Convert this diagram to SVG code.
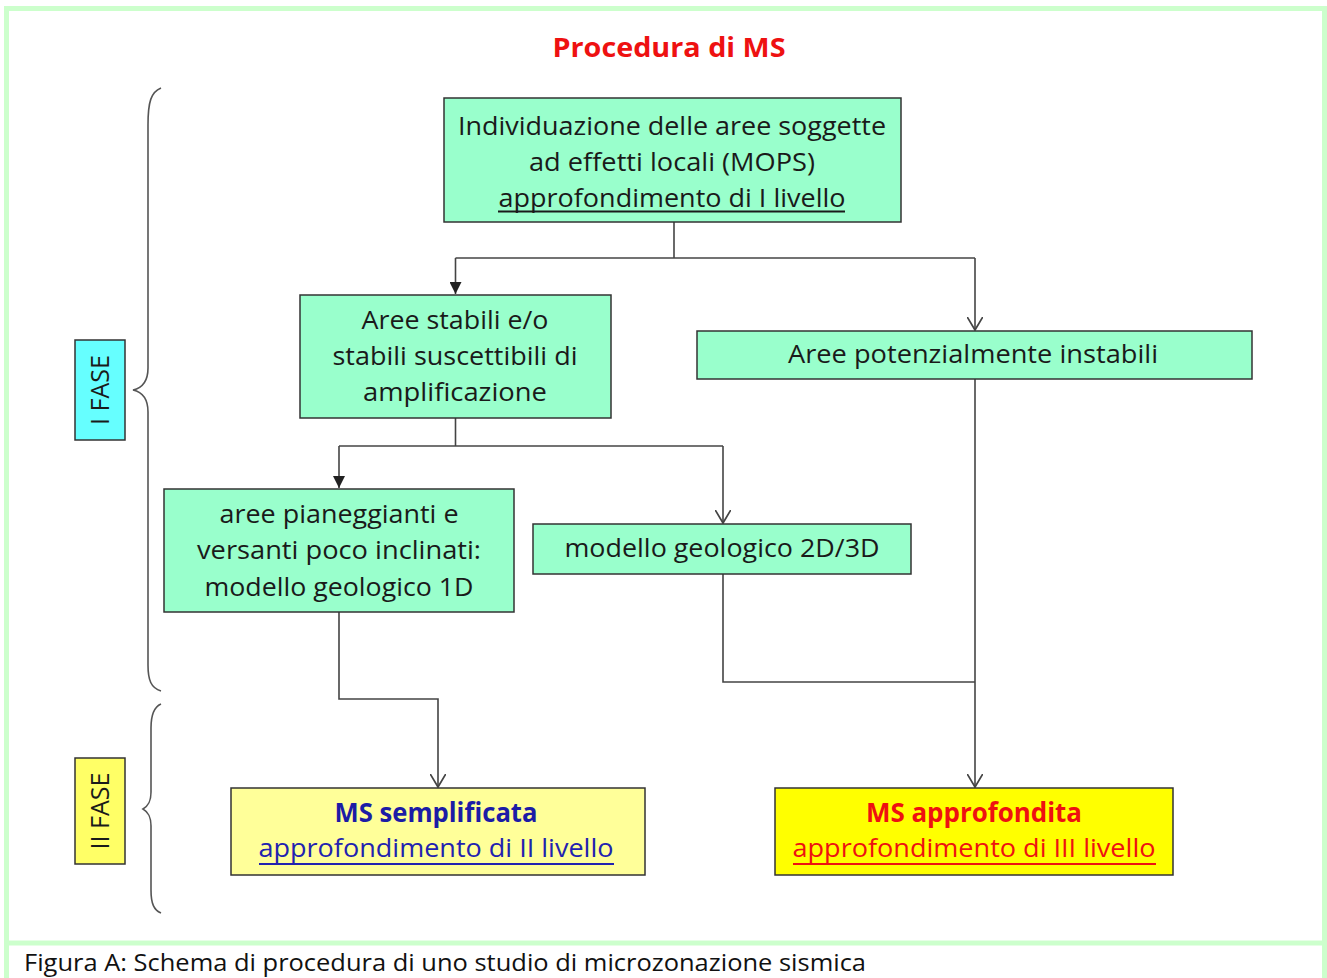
<svg xmlns="http://www.w3.org/2000/svg" width="1327" height="978" viewBox="0 0 1327 978">
<style>
.t{font-family:"Open Sans","Noto Sans","DejaVu Sans",sans-serif;font-size:26px;fill:#1a1a1a;text-anchor:middle}
.b{font-weight:bold}
.box{fill:#99ffcc;stroke:#333;stroke-width:1.5}
.c{fill:none;stroke:#444;stroke-width:1.6}
.br{fill:none;stroke:#555;stroke-width:1.6}
.frame{fill:none;stroke:#ccffcc;stroke-width:5}
</style>
<defs>
<marker id="af" markerWidth="12" markerHeight="12" refX="10" refY="5" orient="auto" markerUnits="userSpaceOnUse" viewBox="0 0 10 10">
<path d="M0,0 L10,5 L0,10 Z" fill="#222"/>
</marker>
<marker id="ao" markerWidth="16" markerHeight="16" refX="10" refY="6" orient="auto" markerUnits="userSpaceOnUse" viewBox="0 0 12 12">
<path d="M0,0 L10,6 L0,12" fill="none" stroke="#444" stroke-width="1.3"/>
</marker>
</defs>
<rect width="1327" height="978" fill="#fff"/>
<g id="frame">
<rect class="frame" x="6.5" y="8.5" width="1318" height="934.5"/>
<line class="frame" x1="6.5" y1="943" x2="6.5" y2="978"/>
<line class="frame" x1="1324.5" y1="943" x2="1324.5" y2="978"/>
</g>
<g id="title">
<text class="t b" x="669" y="57" font-size="30" style="fill:#ee1111" textLength="233" lengthAdjust="spacingAndGlyphs">Procedura di MS</text>
</g>
<g id="braces">
<path class="br" d="M161,88 C151,92 148,102 148,125 L148,368 C148,382 142,388 133,390 C142,392 148,398 148,412 L148,665 C148,680 151,688 161,691"/>
<path class="br" d="M161,704 C154,707 151,714 151,728 L151,792 C151,802 148,806 143,809 C148,812 151,816 151,826 L151,890 C151,904 154,910 161,913"/>
</g>
<g id="connectors">
<path class="c" d="M674,222 L674,258"/>
<path class="c" d="M455.5,258 L975,258"/>
<path class="c" d="M455.5,258 L455.5,294" marker-end="url(#af)"/>
<path class="c" d="M975,258 L975,330" marker-end="url(#ao)"/>
<path class="c" d="M455.5,418 L455.5,446"/>
<path class="c" d="M339,446 L723,446"/>
<path class="c" d="M339,446 L339,488" marker-end="url(#af)"/>
<path class="c" d="M723,446 L723,523" marker-end="url(#ao)"/>
<path class="c" d="M975,379 L975,787" marker-end="url(#ao)"/>
<path class="c" d="M723,574 L723,682 L975,682"/>
<path class="c" d="M339,612 L339,699 L438,699 L438,787" marker-end="url(#ao)"/>
</g>
<g id="fase1">
<rect x="75" y="340" width="50" height="100" fill="#66ffff" stroke="#333" stroke-width="1.5"/>
<text class="t" transform="translate(109,390) rotate(-90)" x="0" y="0" font-size="25" textLength="70" lengthAdjust="spacingAndGlyphs">I FASE</text>
</g>
<g id="fase2">
<rect x="75" y="758" width="50" height="106" fill="#ffff66" stroke="#333" stroke-width="1.5"/>
<text class="t" transform="translate(109,811) rotate(-90)" x="0" y="0" font-size="25" textLength="77" lengthAdjust="spacingAndGlyphs">II FASE</text>
</g>
<g id="n1">
<rect class="box" x="444" y="98" width="457" height="124"/>
<text class="t" x="672" y="135" textLength="428" lengthAdjust="spacingAndGlyphs">Individuazione delle aree soggette</text>
<text class="t" x="672" y="171" textLength="286" lengthAdjust="spacingAndGlyphs">ad effetti locali (MOPS)</text>
<text class="t" x="672" y="207" textLength="347" lengthAdjust="spacingAndGlyphs">approfondimento di I livello</text>
<line x1="498" y1="211.5" x2="845" y2="211.5" stroke="#1a1a1a" stroke-width="2"/>
</g>
<g id="n2">
<rect class="box" x="300" y="295" width="311" height="123"/>
<text class="t" x="455" y="329" textLength="187" lengthAdjust="spacingAndGlyphs">Aree stabili e/o</text>
<text class="t" x="455" y="365" textLength="245" lengthAdjust="spacingAndGlyphs">stabili suscettibili di</text>
<text class="t" x="455" y="401" textLength="184" lengthAdjust="spacingAndGlyphs">amplificazione</text>
</g>
<g id="n3">
<rect class="box" x="697" y="331" width="555" height="48"/>
<text class="t" x="973" y="363" textLength="370" lengthAdjust="spacingAndGlyphs">Aree potenzialmente instabili</text>
</g>
<g id="n4">
<rect class="box" x="164" y="489" width="350" height="123"/>
<text class="t" x="339" y="523" textLength="239" lengthAdjust="spacingAndGlyphs">aree pianeggianti e</text>
<text class="t" x="339" y="559" textLength="284" lengthAdjust="spacingAndGlyphs">versanti poco inclinati:</text>
<text class="t" x="339" y="596" textLength="269" lengthAdjust="spacingAndGlyphs">modello geologico 1D</text>
</g>
<g id="n5">
<rect class="box" x="533" y="524" width="378" height="50"/>
<text class="t" x="722" y="557" textLength="315" lengthAdjust="spacingAndGlyphs">modello geologico 2D/3D</text>
</g>
<g id="n6">
<rect x="231" y="788" width="414" height="87" fill="#ffff99" stroke="#333" stroke-width="1.5"/>
<text class="t b" x="436" y="822" style="fill:#1c1ca6" textLength="203" lengthAdjust="spacingAndGlyphs">MS semplificata</text>
<text class="t" x="436" y="857" style="fill:#2222b0" textLength="355" lengthAdjust="spacingAndGlyphs">approfondimento di II livello</text>
<line x1="259" y1="864" x2="614" y2="864" stroke="#2222b0" stroke-width="2"/>
</g>
<g id="n7">
<rect x="775" y="788" width="398" height="87" fill="#ffff00" stroke="#333" stroke-width="1.5"/>
<text class="t b" x="974" y="822" style="fill:#ee1111" textLength="216" lengthAdjust="spacingAndGlyphs">MS approfondita</text>
<text class="t" x="974" y="857" style="fill:#ee1111" textLength="363" lengthAdjust="spacingAndGlyphs">approfondimento di III livello</text>
<line x1="793" y1="864" x2="1156" y2="864" stroke="#ee1111" stroke-width="2"/>
</g>
<g id="caption">
<text x="24" y="971" font-family="Open Sans, Noto Sans, sans-serif" font-size="24" fill="#111" textLength="842" lengthAdjust="spacingAndGlyphs">Figura A: Schema di procedura di uno studio di microzonazione sismica</text>
</g>
</svg>
